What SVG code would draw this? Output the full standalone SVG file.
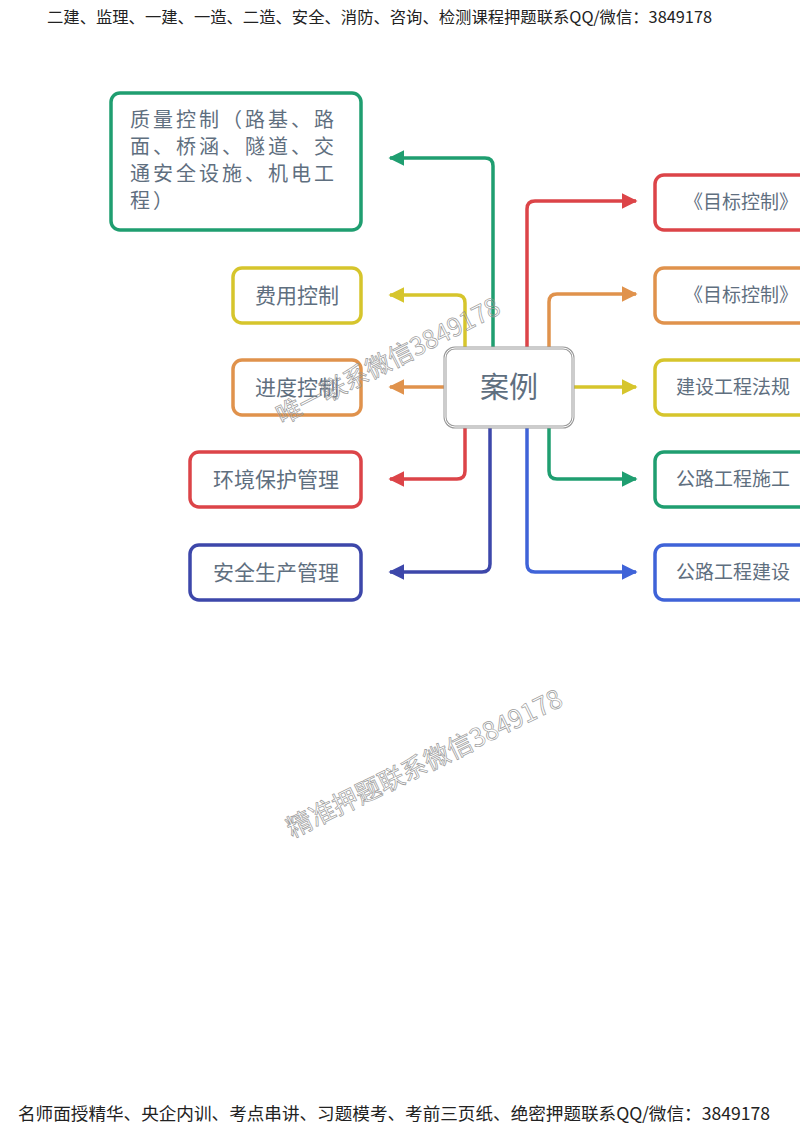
<svg xmlns="http://www.w3.org/2000/svg" width="800" height="1131" viewBox="0 0 800 1131">
<defs>
<style>
.box{fill:#fff;stroke-width:3.5}
.t{font-family:"Noto Sans CJK SC","Noto Sans",sans-serif;fill:#5f6f7f}
.c{fill:none;stroke-width:3.5;stroke-linejoin:round}
.hdr{font-family:"Noto Sans CJK SC",sans-serif;fill:#222}
.wm{font-family:"Noto Sans CJK SC","Liberation Sans",sans-serif;fill:none;stroke:#9a9a9a;stroke-width:0.7}
</style>
<marker id="ag" viewBox="0 0 10 10" refX="9" refY="5" markerWidth="4.5" markerHeight="4.5" orient="auto" markerUnits="strokeWidth"><path d="M0,0L10,5L0,10z" fill="#1f9e70"/></marker>
<marker id="ay" viewBox="0 0 10 10" refX="9" refY="5" markerWidth="4.5" markerHeight="4.5" orient="auto" markerUnits="strokeWidth"><path d="M0,0L10,5L0,10z" fill="#d6c52c"/></marker>
<marker id="ao" viewBox="0 0 10 10" refX="9" refY="5" markerWidth="4.5" markerHeight="4.5" orient="auto" markerUnits="strokeWidth"><path d="M0,0L10,5L0,10z" fill="#e0924c"/></marker>
<marker id="ar" viewBox="0 0 10 10" refX="9" refY="5" markerWidth="4.5" markerHeight="4.5" orient="auto" markerUnits="strokeWidth"><path d="M0,0L10,5L0,10z" fill="#dc4448"/></marker>
<marker id="ab" viewBox="0 0 10 10" refX="9" refY="5" markerWidth="4.5" markerHeight="4.5" orient="auto" markerUnits="strokeWidth"><path d="M0,0L10,5L0,10z" fill="#3d47aa"/></marker>
<marker id="ab2" viewBox="0 0 10 10" refX="9" refY="5" markerWidth="4.5" markerHeight="4.5" orient="auto" markerUnits="strokeWidth"><path d="M0,0L10,5L0,10z" fill="#3f63d8"/></marker>
</defs>
<rect width="800" height="1131" fill="#fff"/>
<text class="hdr" x="47" y="23" font-size="16" textLength="665" lengthAdjust="spacingAndGlyphs">二建、监理、一建、一造、二造、安全、消防、咨询、检测课程押题联系QQ/微信：3849178</text>
<text class="hdr" x="18" y="1120" font-size="17.5" textLength="752" lengthAdjust="spacingAndGlyphs">名师面授精华、央企内训、考点串讲、习题模考、考前三页纸、绝密押题联系QQ/微信：3849178</text>
<g id="connectors">
<path class="c" stroke="#1f9e70" d="M493,348V166q0-8-8-8H390" marker-end="url(#ag)"/>
<path class="c" stroke="#d6c52c" d="M465,348V303q0-8-8-8H390" marker-end="url(#ay)"/>
<path class="c" stroke="#e0924c" d="M445,387H390" marker-end="url(#ao)"/>
<path class="c" stroke="#dc4448" d="M465,427V471q0,8-8,8H390" marker-end="url(#ar)"/>
<path class="c" stroke="#3d47aa" d="M490,427V564q0,8-8,8H390" marker-end="url(#ab)"/>
<path class="c" stroke="#dc4448" d="M527,348V209q0-8,8-8H636" marker-end="url(#ar)"/>
<path class="c" stroke="#e0924c" d="M549,348V302q0-8,8-8H636" marker-end="url(#ao)"/>
<path class="c" stroke="#d6c52c" d="M573,387H636" marker-end="url(#ay)"/>
<path class="c" stroke="#1f9e70" d="M549,427V471q0,8,8,8H636" marker-end="url(#ag)"/>
<path class="c" stroke="#3f63d8" d="M527,427V564q0,8,8,8H636" marker-end="url(#ab2)"/>
</g>
<g id="center">
<rect x="445" y="348" width="128" height="79" rx="10" fill="#fff" stroke="#9a9a9a" stroke-width="3"/>
<rect x="445" y="348" width="128" height="79" rx="10" fill="none" stroke="#fff" stroke-width="1"/>
<text class="t" x="509" y="398" font-size="29" text-anchor="middle" fill="#6a7684">案例</text>
</g>
<g id="quality">
<rect class="box" x="111" y="93" width="250" height="137" rx="9" stroke="#1f9e70"/>
<text class="t" font-size="20" letter-spacing="3"><tspan x="130" y="127">质量控制（路基、路</tspan><tspan x="130" y="154">面、桥涵、隧道、交</tspan><tspan x="130" y="181">通安全设施、机电工</tspan><tspan x="130" y="208">程）</tspan></text>
</g>
<g id="cost">
<rect class="box" x="233" y="268" width="128" height="55" rx="9" stroke="#d6c52c"/>
<text class="t" x="297" y="303" font-size="21" text-anchor="middle">费用控制</text>
</g>
<g id="schedule">
<rect class="box" x="233" y="360" width="128" height="55" rx="9" stroke="#e0924c"/>
<text class="t" x="297" y="395" font-size="21" text-anchor="middle">进度控制</text>
</g>
<g id="env">
<rect class="box" x="190" y="452" width="171" height="55" rx="9" stroke="#dc4448"/>
<text class="t" x="276" y="487" font-size="21" text-anchor="middle">环境保护管理</text>
</g>
<g id="safety">
<rect class="box" x="190" y="545" width="171" height="55" rx="9" stroke="#3d47aa"/>
<text class="t" x="276" y="580" font-size="21" text-anchor="middle">安全生产管理</text>
</g>
<g id="r1">
<rect class="box" x="655" y="175" width="170" height="55" rx="9" stroke="#dc4448"/>
<text class="t" x="684" y="209" font-size="19">《目标控制》</text>
</g>
<g id="r2">
<rect class="box" x="655" y="268" width="170" height="55" rx="9" stroke="#e0924c"/>
<text class="t" x="684" y="302" font-size="19">《目标控制》</text>
</g>
<g id="r3">
<rect class="box" x="655" y="360" width="170" height="55" rx="9" stroke="#d6c52c"/>
<text class="t" x="676" y="394" font-size="19">建设工程法规</text>
</g>
<g id="r4">
<rect class="box" x="655" y="452" width="170" height="55" rx="9" stroke="#1f9e70"/>
<text class="t" x="676" y="486" font-size="19">公路工程施工</text>
</g>
<g id="r5">
<rect class="box" x="655" y="545" width="170" height="55" rx="9" stroke="#3f63d8"/>
<text class="t" x="676" y="579" font-size="19">公路工程建设</text>
</g>
<text class="wm" font-size="25" transform="translate(282,425) rotate(-27)">唯一联系微信3849178</text>
<text class="wm" font-size="25.5" transform="translate(292,838) rotate(-26)">精准押题联系微信3849178</text>
</svg>
